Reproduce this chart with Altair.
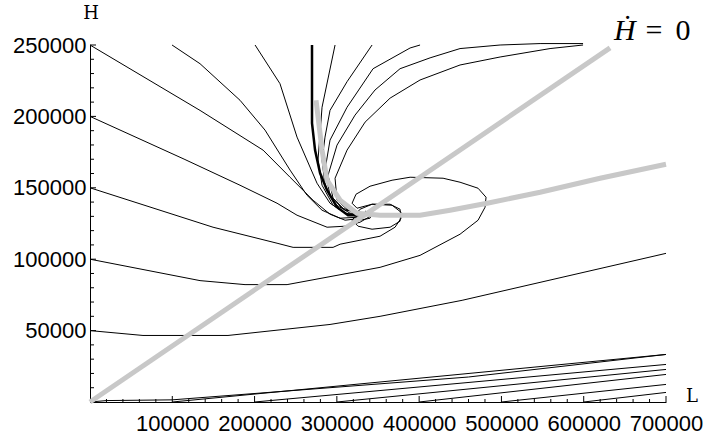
import altair as alt
import pandas as pd

# ---- axis ticks and labels ----
x_major = [100000, 200000, 300000, 400000, 500000, 600000, 700000]
y_major = [50000, 100000, 150000, 200000, 250000]
x_minor = [v for v in range(20000, 700001, 20000) if v not in x_major]
y_minor = [v for v in range(10000, 250001, 10000) if v not in y_major]

# ---- phase trajectories (L, H) ----
a_L = [0, 133700, 210300, 243100, 271100, 291700, 310000, 330600, 337900]
a_H = [250000, 204200, 176400, 157400, 141300, 131500, 127300, 128700, 132200]

p172_L = [99700, 133700, 182300, 212700, 243100, 263700, 282000, 303900, 325800, 335500]
p172_H = [250000, 236900, 211300, 190400, 162400, 144800, 134300, 128700, 129400, 132200]

b_L = [0, 114300, 182300, 227300, 251600, 288100, 310000, 328200, 342800, 334300]
b_H = [200000, 170100, 151800, 139200, 130800, 122400, 123100, 125900, 130800, 133600]

c_L = [0, 149500, 227300, 246800, 295400, 303900, 352500, 370700, 378000, 376800,
       364700, 342800, 328200, 322100, 328200, 340300, 342800, 334300]
c_H = [150000, 122400, 111200, 108300, 108300, 110500, 116100, 122400, 128700, 135000,
       138500, 138500, 135000, 130800, 127300, 128700, 132200, 133600]

d_L = [0, 133700, 188400, 239500, 352500, 401100, 449700, 471600, 480100, 481300,
       471600, 449700, 429100, 389000, 367100, 340300, 323300, 318500, 324500, 342800,
       367100, 378000, 376800, 364700, 342800, 325800, 318500, 324500, 334300]
d_H = [100000, 85000, 82200, 82200, 94300, 102700, 117500, 127300, 136400, 143400,
       149700, 153900, 156700, 157400, 155300, 151100, 145500, 139200, 135700, 138500,
       137800, 132900, 126600, 122400, 121000, 123100, 127300, 131500, 132200]

e_L = [0, 64400, 167700, 291700, 352500, 452200, 700000]
e_H = [50000, 46600, 46600, 54300, 60000, 71200, 104100]

t255_L = [200600, 230900, 251600, 275900, 291700, 310000, 328200]
t255_H = [250000, 222900, 185500, 153200, 139200, 132200, 130800]

t335_L = [297800, 282000, 279600, 277100, 282000, 295400, 312400, 330600]
t335_H = [250000, 206400, 188300, 169400, 151800, 137800, 131500, 131500]

t372_L = [342800, 312400, 291700, 285600, 282000, 285600, 297800, 316000, 331800]
t372_H = [250000, 224300, 204200, 185500, 169400, 151800, 138500, 132200, 132200]

t420_L = [401100, 389000, 344000, 312400, 291700, 285600, 291700, 306300, 324500]
t420_H = [250000, 247900, 233400, 206400, 183400, 162400, 144800, 135700, 132900]

r1_L = [599200, 547000, 498400, 449700, 413300, 376800, 346400, 322100, 300200,
        289300, 295400, 310000, 328200]
r1_H = [251000, 251000, 250000, 247500, 241000, 233400, 218500, 200900, 179900,
        158800, 142700, 134300, 132900]

r2_L = [599200, 559100, 498400, 449700, 401100, 364700, 334300, 312400, 297800,
        300200, 313600, 329400]
r2_H = [250000, 247500, 241600, 236000, 225500, 212800, 196000, 176400, 156700,
        141300, 134300, 132900]

# heavy trajectory hugging the vertical branch
thick_L = [269800, 269800, 273500, 279600, 288100, 300200, 313600, 328200]
thick_H = [250000, 195300, 176400, 160300, 148300, 136400, 130800, 130800]

# trajectories leaving the L axis
low0_L = [0, 20000, 100000, 460000, 700000]
low0_H = [0, 1000, 1500, 17500, 33300]
low1_L = [100000, 700000]
low1_H = [0, 33300]
low2_L = [200000, 700000]
low2_H = [0, 26300]
low3_L = [300000, 700000]
low3_H = [0, 22800]
low4_L = [400000, 700000]
low4_H = [0, 19300]
low5_L = [500000, 700000]
low5_H = [0, 12300]
low6_L = [600000, 700000]
low6_H = [0, 6700]

# nullclines
hdot_L = [0, 632000]
hdot_H = [0, 248000]
ldot_L = [274700, 282000, 288100, 303900, 324500, 352500, 401100, 437600, 482600,
          547000, 619900, 700000]
ldot_H = [211300, 176400, 155300, 141300, 132200, 130800, 130800, 134300, 139200,
          146900, 156700, 166500]


def frame(paths):
    rows = []
    for name, Ls, Hs in paths:
        for i, (l, h) in enumerate(zip(Ls, Hs)):
            rows.append({"traj": name, "i": i, "L": l, "H": h})
    return pd.DataFrame(rows)


thin_df = frame([
    ("a", a_L, a_H), ("p172", p172_L, p172_H), ("b", b_L, b_H), ("c", c_L, c_H),
    ("d", d_L, d_H), ("e", e_L, e_H), ("t255", t255_L, t255_H),
    ("t335", t335_L, t335_H), ("t372", t372_L, t372_H), ("t420", t420_L, t420_H),
    ("r1", r1_L, r1_H), ("r2", r2_L, r2_H),
    ("low0", low0_L, low0_H), ("low1", low1_L, low1_H), ("low2", low2_L, low2_H),
    ("low3", low3_L, low3_H), ("low4", low4_L, low4_H), ("low5", low5_L, low5_H),
    ("low6", low6_L, low6_H),
])
thick_df = frame([("thick", thick_L, thick_H)])
null_df = frame([("hdot", hdot_L, hdot_H), ("ldot", ldot_L, ldot_H)])

W, Hgt = 576, 357
xs = alt.Scale(domain=[0, 700000], nice=False, zero=False)
ys = alt.Scale(domain=[0, 250000], nice=False, zero=False)
LABEL_FONT = "Liberation Sans"

x_axis = alt.Axis(values=x_major, format="d", title=None, ticks=False, grid=False,
                  labelFont=LABEL_FONT, labelFontSize=22, labelColor="black",
                  labelPadding=11, labelOverlap=False, labelFlush=False,
                  domainColor="black", domainWidth=1)
y_axis = alt.Axis(values=y_major, format="d", title=None, ticks=False, grid=False,
                  labelFont=LABEL_FONT, labelFontSize=22, labelColor="black",
                  labelPadding=4, labelOverlap=False, labelFlush=False,
                  domainColor="black", domainWidth=1)


def X(field):
    return alt.X(field, scale=xs, axis=x_axis)


def Y(field):
    return alt.Y(field, scale=ys, axis=y_axis)


nulls = alt.Chart(null_df).mark_line(color="#c8c8c8", strokeWidth=5, strokeCap="butt").encode(
    x=X("L:Q"), y=Y("H:Q"), detail="traj:N", order="i:Q")
thin = alt.Chart(thin_df).mark_line(color="black", strokeWidth=1).encode(
    x=X("L:Q"), y=Y("H:Q"), detail="traj:N", order="i:Q")
thick = alt.Chart(thick_df).mark_line(color="black", strokeWidth=2.5).encode(
    x=X("L:Q"), y=Y("H:Q"), detail="traj:N", order="i:Q")


def xticks(vals, length):
    return alt.Chart(pd.DataFrame({"v": vals})).mark_rule(color="black", strokeWidth=1).encode(
        x=X("v:Q"), y=alt.value(Hgt), y2=alt.value(Hgt - length))


def yticks(vals, length):
    return alt.Chart(pd.DataFrame({"v": vals})).mark_rule(color="black", strokeWidth=1).encode(
        y=Y("v:Q"), x=alt.value(0), x2=alt.value(length))


def label(text, x, y, font, size, style="normal", align="center", baseline="middle"):
    return alt.Chart(pd.DataFrame({"t": [text]})).mark_text(
        font=font, fontSize=size, fontStyle=style, align=align, baseline=baseline,
        color="black").encode(x=alt.value(x), y=alt.value(y), text="t:N")


chart = alt.layer(
    thin, thick, nulls,
    xticks(x_major, 6), xticks(x_minor, 3),
    yticks(y_major, 6), yticks(y_minor, 4),
    label("H", 1, -31, "DejaVu Serif", 18),
    label("L", 602, 352, "DejaVu Serif", 18),
    label("Ḣ", 524, -5, "Liberation Serif", 30, style="italic", align="left", baseline="alphabetic"),
    label("=", 564, -5, "Liberation Serif", 30, baseline="alphabetic"),
    label("0", 593, -5, "Liberation Serif", 30, baseline="alphabetic"),
).properties(
    width=W, height=Hgt,
    autosize=alt.AutoSizeParams(type="none"),
    padding={"left": 90, "top": 45, "right": 40, "bottom": 39},
).configure_view(stroke=None)

chart.save("out.html", embed_options={"renderer": "svg", "actions": False})
